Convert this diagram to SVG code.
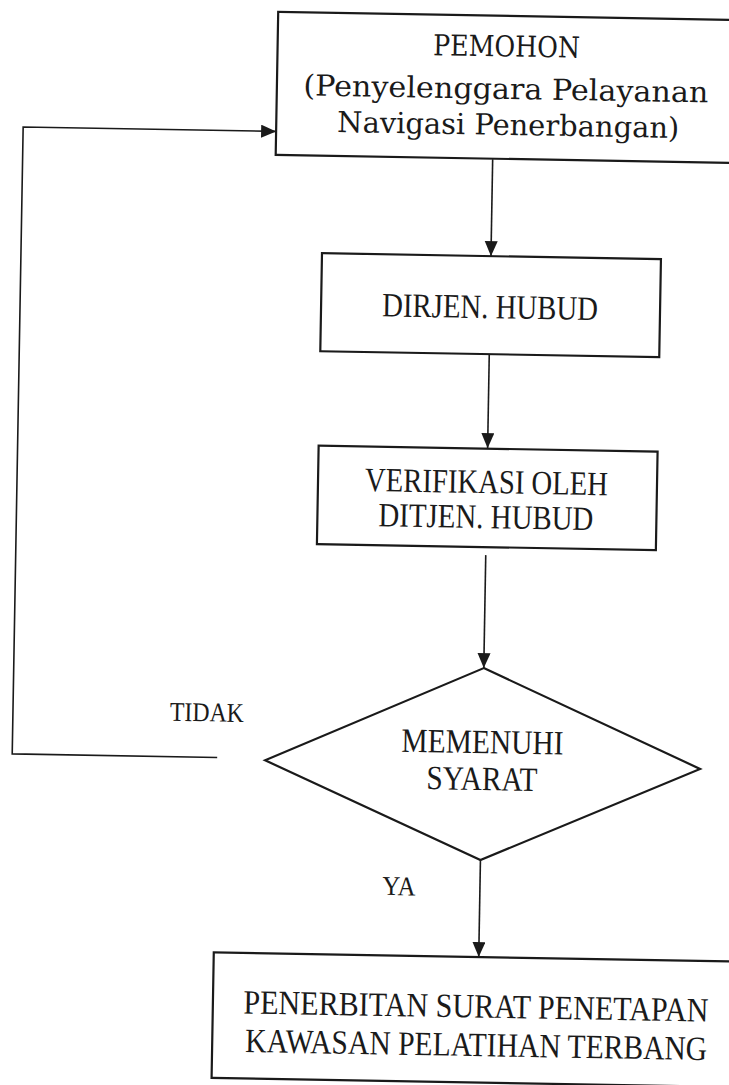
<svg xmlns="http://www.w3.org/2000/svg" width="729" height="1085" viewBox="0 0 729 1085">
  <style>
    .box { fill: #ffffff; stroke: #1a1a1a; stroke-width: 2.2; }
    .conn { fill: none; stroke: #1a1a1a; stroke-width: 1.6; }
    .ta { font-family: "DejaVu Serif", "Liberation Serif", serif; font-size: 29px; fill: #1a1a1a; text-anchor: middle; }
    .tb { font-family: "Liberation Serif", "DejaVu Serif", serif; font-size: 34px; fill: #1a1a1a; text-anchor: middle; }
    .tl { font-family: "Liberation Serif", "DejaVu Serif", serif; font-size: 27px; fill: #1a1a1a; text-anchor: middle; }
  </style>
  <defs>
    <marker id="arrow" markerUnits="userSpaceOnUse" markerWidth="16" markerHeight="14" refX="15" refY="6.5" orient="auto">
      <path d="M0,0 L15,6.5 L0,13 Z" fill="#1a1a1a"/>
    </marker>
  </defs>
  <rect x="0" y="0" width="729" height="1085" fill="#ffffff"/>
  <g transform="rotate(1 364 540)">
    <g id="connectors">
      <path id="c-pemohon-dirjen" class="conn" d="M486,157 L486,254" marker-end="url(#arrow)"/>
      <path id="c-dirjen-verif" class="conn" d="M486,352 L486,446" marker-end="url(#arrow)"/>
      <path id="c-verif-syarat" class="conn" d="M486,553 L486,666" marker-end="url(#arrow)"/>
      <path id="c-syarat-terbit" class="conn" d="M486,858 L486,955" marker-end="url(#arrow)"/>
      <path id="c-tidak-loop" class="conn" d="M221,760 L16,760 L16,133 L269,133" marker-end="url(#arrow)"/>
    </g>
    <g id="node-pemohon">
      <rect class="box" x="269" y="13.5" width="500" height="143"/>
      <text class="ta" x="498" y="54" textLength="147" lengthAdjust="spacingAndGlyphs">PEMOHON</text>
      <text class="ta" x="498" y="96.5" textLength="405" lengthAdjust="spacingAndGlyphs">(Penyelenggara Pelayanan</text>
      <text class="ta" x="501" y="132.5" textLength="342" lengthAdjust="spacingAndGlyphs">Navigasi Penerbangan)</text>
    </g>
    <g id="node-dirjen">
      <rect class="box" x="317" y="254" width="339" height="98"/>
      <text class="tb" x="486" y="316" textLength="216" lengthAdjust="spacingAndGlyphs">DIRJEN. HUBUD</text>
    </g>
    <g id="node-verifikasi">
      <rect class="box" x="317" y="446.5" width="339" height="98.5"/>
      <text class="tb" x="485.5" y="491" textLength="243" lengthAdjust="spacingAndGlyphs">VERIFIKASI OLEH</text>
      <text class="tb" x="485.5" y="526" textLength="215" lengthAdjust="spacingAndGlyphs">DITJEN. HUBUD</text>
    </g>
    <g id="node-syarat">
      <polygon class="box" points="486,666 704,763 486,858 269,762"/>
      <text class="tb" x="486" y="751" font-size="32" textLength="162" lengthAdjust="spacingAndGlyphs">MEMENUHI</text>
      <text class="tb" x="486" y="788" font-size="32" textLength="111" lengthAdjust="spacingAndGlyphs">SYARAT</text>
    </g>
    <g id="label-tidak">
      <text class="tl" x="210" y="724" textLength="74" lengthAdjust="spacingAndGlyphs">TIDAK</text>
    </g>
    <g id="label-ya">
      <text class="tl" x="405" y="894.5" font-size="24" textLength="33" lengthAdjust="spacingAndGlyphs">YA</text>
    </g>
    <g id="node-penerbitan">
      <rect class="box" x="221" y="955" width="560" height="125.5"/>
      <text class="tb" x="484" y="1015.5" textLength="465" lengthAdjust="spacingAndGlyphs">PENERBITAN SURAT PENETAPAN</text>
      <text class="tb" x="485" y="1054" textLength="462" lengthAdjust="spacingAndGlyphs">KAWASAN PELATIHAN TERBANG</text>
    </g>
  </g>
</svg>
